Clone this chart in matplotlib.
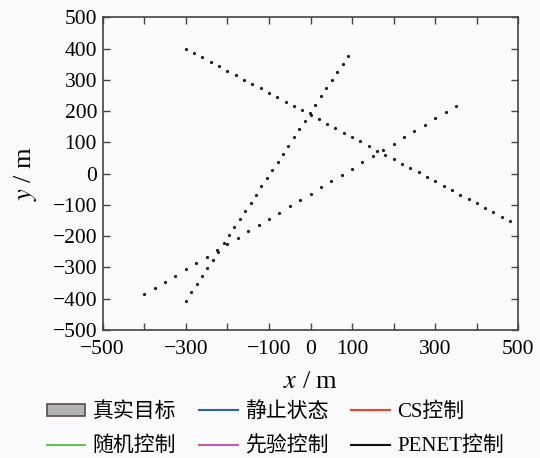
import numpy as np
import matplotlib
matplotlib.use("Agg")
import matplotlib.pyplot as plt
from matplotlib.patches import Patch
from matplotlib.lines import Line2D

plt.rcParams["font.family"] = ["Liberation Serif", "Noto Sans CJK SC"]
plt.rcParams["mathtext.fontset"] = "stix"

# target A, descending from upper left
a_x = [-300, -280, -260, -240, -220, -200, -180, -160, -140, -120,
       -100, -80, -60, -40, -20, 0, 20, 40, 60, 80,
       100, 120, 140, 160, 180, 200, 220, 240, 260, 280,
       300, 320, 340, 360, 380, 400, 420, 440, 460, 480]
a_y = [400, 386, 372, 358, 343, 329, 315, 301, 287, 273,
       258, 244, 230, 216, 202, 188, 174, 159, 145, 131,
       117, 103, 89, 74, 60, 46, 32, 18, 4, -10,
       -25, -39, -53, -67, -81, -95, -110, -124, -138, -152]

# target B, steep climb
b_x = [-300, -287, -274, -261, -248, -235, -222, -209, -196, -183,
       -170, -157, -144, -131, -118, -105, -92, -79, -66, -53,
       -40, -27, -14, -1, 12, 25, 38, 51, 64, 77, 90]
b_y = [-406, -380, -354, -328, -302, -276, -249, -223, -197, -171,
       -145, -119, -93, -67, -41, -15, 12, 38, 64, 90,
       116, 142, 168, 194, 220, 247, 273, 299, 325, 351, 377]

# target C, shallow climb
c_x = [-400, -375, -350, -325, -300, -275, -250, -225, -200, -175,
       -150, -125, -100, -75, -50, -25, 0, 25, 50, 75,
       100, 125, 150, 175, 200, 225, 250, 275, 300, 325, 350]
c_y = [-386, -366, -346, -326, -306, -285, -265, -245, -225, -205,
       -185, -165, -145, -125, -105, -85, -64, -44, -24, -4,
       16, 36, 56, 76, 96, 117, 137, 157, 177, 197, 217]

legend_labels = ["真实目标", "静止状态", "CS控制", "随机控制", "先验控制", "PENET控制"]
legend_colors = ["#b4b4b4", "#2f5fc0", "#f0402a", "#6cc24a", "#c85aa8", "#111111"]

x_ticks = [-500, -400, -300, -200, -100, 0, 100, 200, 300, 400, 500]
x_ticklabels = ["−500", "", "−300", "", "−100", "0", "100", "", "300", "", "500"]
y_ticks = list(range(-500, 501, 100))

fig = plt.figure(figsize=(5.40, 4.58), dpi=100)
fig.patch.set_facecolor("#fbfbfd")
ax = fig.add_axes([0.190, 0.2795, 0.770, 0.6827])
ax.set_facecolor("#fbfbfd")

for xs, ys in [(a_x, a_y), (b_x, b_y), (c_x, c_y)]:
    ax.plot(xs, ys, ls="none", marker="o", ms=2.3, color="#1a1a1a", mec="none")

ax.set_xlim(-500, 500)
ax.set_ylim(-500, 500)
ax.set_xticks(x_ticks)
ax.set_xticklabels(x_ticklabels)
ax.set_yticks(y_ticks)
ax.set_yticklabels([str(v).replace("-", "−") for v in y_ticks])
ax.tick_params(direction="in", top=True, right=True, length=5, width=1.0,
               labelsize=15.5, color="#444444")
ax.tick_params(axis="x", pad=7)
ax.tick_params(axis="y", pad=4)
for s in ax.spines.values():
    s.set_linewidth(1.2)
    s.set_color("#444444")

ax.set_xlabel("$x$ / m", fontsize=19, labelpad=9)
ax.set_ylabel("$y$ / m", fontsize=19, labelpad=10)

handles = []
for lab, col in zip(legend_labels, legend_colors):
    if lab == "真实目标":
        handles.append(Patch(facecolor=col, edgecolor="#5a4a48", lw=1.2))
    else:
        handles.append(Line2D([], [], color=col, lw=1.5))
# reorder so the legend fills row by row
order = [0, 3, 1, 4, 2, 5]
fig.legend([handles[i] for i in order], [legend_labels[i] for i in order],
           loc="center", bbox_to_anchor=(0.51, 0.062), ncol=3, frameon=False,
           fontsize=15, handlelength=1.85, handleheight=0.5, handletextpad=0.35,
           columnspacing=1.1, labelspacing=0.7, borderpad=0.1)

fig.savefig("out.png", dpi=100, facecolor=fig.get_facecolor())
